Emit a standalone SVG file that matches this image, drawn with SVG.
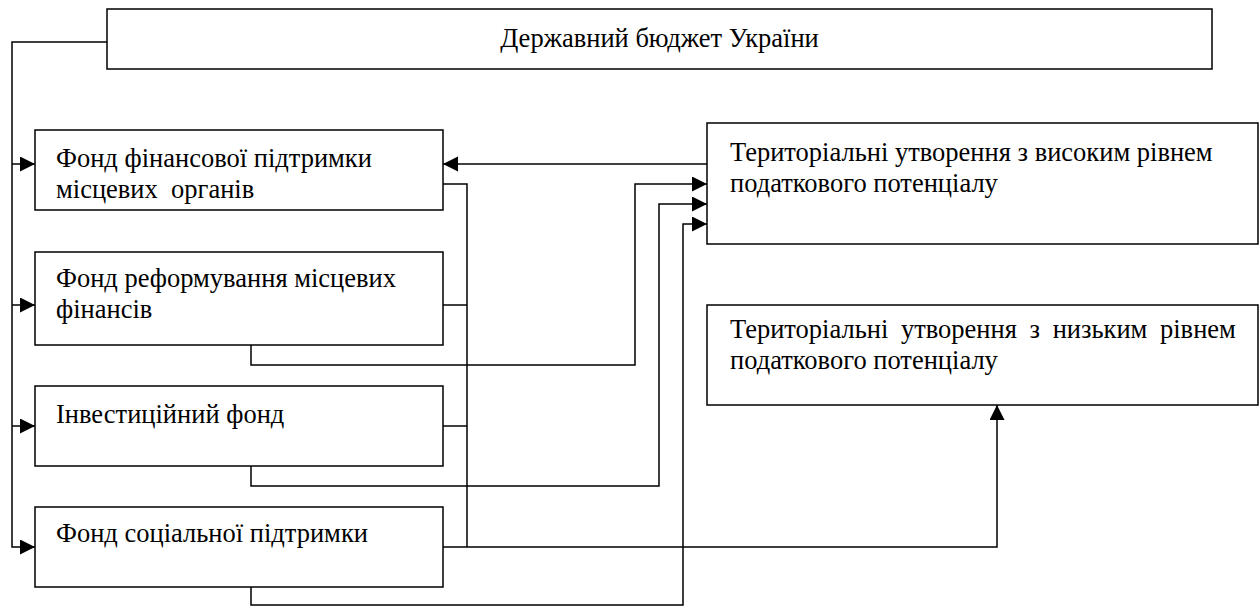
<svg xmlns="http://www.w3.org/2000/svg" width="1259" height="608" viewBox="0 0 1259 608">
<style>
.box{fill:#fff;stroke:#000;stroke-width:1.5}
.t{font-family:"Liberation Serif","Times New Roman",serif;font-size:26.5px;fill:#000}
.c{fill:none;stroke:#000;stroke-width:1.5}
</style>
<defs>
<marker id="ah" markerUnits="userSpaceOnUse" markerWidth="16" markerHeight="16" refX="15" refY="7.5" orient="auto">
<path d="M0,0 L15,7.5 L0,15 Z" fill="#000"/>
</marker>
</defs>
<rect width="1259" height="608" fill="#fff"/>
<g id="connectors">
<path class="c" d="M107 42 H12 V547 H35" marker-end="url(#ah)"/>
<path class="c" d="M12 164 H35" marker-end="url(#ah)"/>
<path class="c" d="M12 305 H35" marker-end="url(#ah)"/>
<path class="c" d="M12 426 H35" marker-end="url(#ah)"/>
<path class="c" d="M707 164 H443" marker-end="url(#ah)"/>
<path class="c" d="M443 184 H467 V547"/>
<path class="c" d="M443 305 H467"/>
<path class="c" d="M443 426 H467"/>
<path class="c" d="M443 547 H997 V405" marker-end="url(#ah)"/>
<path class="c" d="M251 345 V365 H635 V184 H707" marker-end="url(#ah)"/>
<path class="c" d="M251 466 V486 H659 V204 H707" marker-end="url(#ah)"/>
<path class="c" d="M251 587 V605 H683 V224 H707" marker-end="url(#ah)"/>
</g>
<g id="budget">
<rect class="box" x="107" y="9" width="1105" height="60"/>
<text class="t" x="659.5" y="47" text-anchor="middle">Державний бюджет України</text>
</g>
<g id="fund-financial-support">
<rect class="box" x="35" y="130" width="408" height="80"/>
<text class="t" x="56" y="167">Фонд фінансової підтримки</text>
<text class="t" x="56" y="198" xml:space="preserve">місцевих  органів</text>
</g>
<g id="fund-reform">
<rect class="box" x="35" y="252" width="408" height="93"/>
<text class="t" x="56" y="287">Фонд реформування місцевих</text>
<text class="t" x="56" y="318">фінансів</text>
</g>
<g id="fund-investment">
<rect class="box" x="35" y="386" width="408" height="80"/>
<text class="t" x="56" y="423">Інвестиційний фонд</text>
</g>
<g id="fund-social">
<rect class="box" x="35" y="507" width="408" height="80"/>
<text class="t" x="56" y="542">Фонд соціальної підтримки</text>
</g>
<g id="territories-high">
<rect class="box" x="707" y="123" width="551" height="121"/>
<text class="t" x="730" y="161">Територіальні утворення з високим рівнем</text>
<text class="t" x="730" y="192">податкового потенціалу</text>
</g>
<g id="territories-low">
<rect class="box" x="707" y="305" width="551" height="100"/>
<text class="t" x="730" y="338" word-spacing="6">Територіальні утворення з низьким рівнем</text>
<text class="t" x="730" y="369">податкового потенціалу</text>
</g>
</svg>
